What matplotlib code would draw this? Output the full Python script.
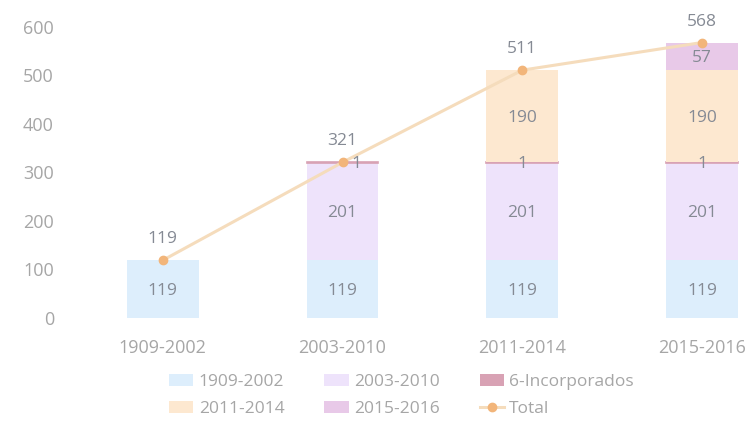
import matplotlib

matplotlib.use("Agg")

import matplotlib.pyplot as plt
import numpy as np


PERIODS = ["1909-2002", "2003-2010", "2011-2014", "2015-2016"]
S_1909 = np.array([119, 119, 119, 119])
S_2003 = np.array([0, 201, 201, 201])
S_INC = np.array([0, 1, 1, 1])
S_2011 = np.array([0, 0, 190, 190])
S_2015 = np.array([0, 0, 0, 57])
TOTAL = np.array([119, 321, 511, 568])
YTICKS = [0, 100, 200, 300, 400, 500, 600]


def main() -> None:
    plt.rcParams.update({"font.family": ["Open Sans", "DejaVu Sans"]})

    colors = {
        "1909-2002": "#ddeefc",
        "2003-2010": "#eee3fb",
        "6-Incorporados": "#d8a2b4",
        "2011-2014": "#fde8d0",
        "2015-2016": "#e8c9e8",
        "total_line": "#f5dcbc",
        "total_marker": "#f2b57a",
        "text": "#858a94",
        "tick": "#a6a6a6",
    }

    fig = plt.figure(figsize=(7.49, 4.25), dpi=100)
    ax = fig.add_axes([0.0868, 0.2518, 0.908, 0.6847])

    x = np.arange(len(PERIODS))
    width = 0.4

    series = [
        ("1909-2002", S_1909),
        ("2003-2010", S_2003),
        ("6-Incorporados", S_INC),
        ("2011-2014", S_2011),
        ("2015-2016", S_2015),
    ]

    handles = {}
    bottom = np.zeros(len(PERIODS))
    for name, vals in series:
        bars = ax.bar(x, vals, width, bottom=bottom, color=colors[name],
                      edgecolor="none", label=name, zorder=2)
        if name == "6-Incorporados":
            # 1-unit segment is thinner than a pixel, outline it so it shows
            for bar, v in zip(bars, vals):
                if v > 0:
                    bar.set_edgecolor(colors[name])
                    bar.set_linewidth(1.2)
        handles[name] = bars
        for xi, b, v, tot in zip(x, bottom, vals, TOTAL):
            if v > 0:
                # small segment on top of the stack: nudge right of the Total marker
                dx = 10 if (v < 10 and b + v >= tot) else 0
                ax.annotate(f"{v}", (xi, b + v / 2), xytext=(dx, -1), textcoords="offset points",
                            ha="center", va="center", fontsize=12.5, color=colors["text"], zorder=5)
        bottom = bottom + vals

    line, = ax.plot(x, TOTAL, color=colors["total_line"], linewidth=2.2,
                    marker="o", markersize=6, markerfacecolor=colors["total_marker"],
                    markeredgecolor=colors["total_marker"], label="Total", zorder=4)
    handles["Total"] = line
    for xi, v in zip(x, TOTAL):
        ax.annotate(f"{v}", (xi, v), xytext=(0, 15), textcoords="offset points",
                    ha="center", va="center", fontsize=12.5, color=colors["text"])

    ax.set_xlim(-0.544, 3.24)
    ax.set_ylim(0, 600)
    ax.set_yticks(YTICKS)
    ax.set_xticks(x)
    ax.set_xticklabels(PERIODS)
    ax.tick_params(axis="both", length=0, colors=colors["tick"], labelsize=13)
    ax.tick_params(axis="x", pad=15)
    ax.tick_params(axis="y", pad=8)
    for s in ax.spines.values():
        s.set_visible(False)

    order = ["1909-2002", "2011-2014", "2003-2010", "2015-2016", "6-Incorporados", "Total"]
    leg = fig.legend([handles[k] for k in order], order, ncol=3, loc="lower left",
                     bbox_to_anchor=(0.205, -0.018), frameon=False, fontsize=12.5,
                     handlelength=1.4, handleheight=0.7, columnspacing=2.3,
                     handletextpad=0.3, labelspacing=0.6)
    for t in leg.get_texts():
        t.set_color(colors["tick"])

    fig.savefig("out.png", dpi=100)


if __name__ == "__main__":
    main()
